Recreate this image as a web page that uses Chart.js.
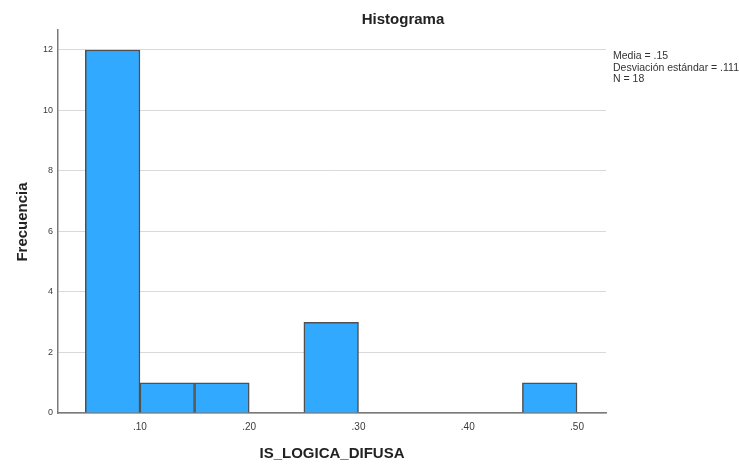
<!DOCTYPE html>
<html>
<head>
<meta charset="utf-8">
<script src="https://cdn.jsdelivr.net/npm/chart.js@4"></script>
<style>
  html, body { margin: 0; padding: 0; background: #fff; }
  #wrap { width: 739px; height: 465px; }
</style>
</head>
<body>
<div id="wrap"><canvas id="histChart" width="739" height="465"></canvas></div>
<script>
// histogram bins (lower / upper edge) and frequencies
const binStarts = [0.05, 0.10, 0.15, 0.25, 0.45];
const binEnds = [0.10, 0.15, 0.20, 0.30, 0.50];
const counts = [12, 1, 1, 3, 1];
const xTicks = [0.10, 0.20, 0.30, 0.40, 0.50];
const yTicks = [0, 2, 4, 6, 8, 10, 12];
const statsLines = ['Media = .15', 'Desviación estándar = .111', 'N = 18'];

const chartTitle = 'Histograma';
const xTitle = 'IS_LOGICA_DIFUSA';
const yTitle = 'Frecuencia';

const points = binStarts.map(function (s, i) {
    return { x: (s + binEnds[i]) / 2, y: counts[i] };
});

// title, axis titles and the stats box are drawn here
const textPlugin = {
    id: 'spssText',
    afterDraw: function (chart) {
        const ctx = chart.ctx;
        const area = chart.chartArea;
        ctx.save();
        ctx.fillStyle = '#222';
        ctx.font = 'bold 15px "Liberation Sans", Arial, sans-serif';
        ctx.textAlign = 'center';
        ctx.textBaseline = 'alphabetic';
        ctx.fillText(chartTitle, 403, 24);
        ctx.fillText(xTitle, (area.left + area.right) / 2, 458);

        ctx.translate(27, 222);
        ctx.rotate(-Math.PI / 2);
        ctx.fillText(yTitle, 0, 0);
        ctx.restore();

        ctx.save();
        ctx.fillStyle = '#333';
        ctx.font = '10.5px "Liberation Sans", Arial, sans-serif';
        ctx.textAlign = 'left';
        ctx.textBaseline = 'alphabetic';
        statsLines.forEach(function (line, i) {
            ctx.fillText(line, 613, 59 + i * 11.5);
        });
        ctx.restore();
    }
};

const ctx = document.getElementById('histChart').getContext('2d');
const histChart = new Chart(ctx, {
    type: 'bar',
    data: {
        datasets: [{
            label: yTitle,
            data: points,
            backgroundColor: '#31a9ff',
            borderColor: '#505050',
            borderWidth: 1.5,
            barPercentage: 1,
            categoryPercentage: 1
        }]
    },
    options: {
        responsive: false,
        animation: false,
        layout: {
            padding: { left: 0, top: 30, right: 133, bottom: 0 }
        },
        plugins: {
            legend: { display: false },
            tooltip: { enabled: false }
        },
        scales: {
            x: {
                type: 'linear',
                offset: false,
                min: 0.025,
                max: 0.5265,
                afterBuildTicks: function (scale) {
                    scale.ticks = xTicks.map(function (v) { return { value: v }; });
                },
                afterFit: function (scale) { scale.height = 52; },
                grid: { display: false, drawTicks: false, offset: false },
                border: { display: true, color: '#7a7a7a', width: 1.5 },
                ticks: {
                    padding: 8,
                    color: '#3a3a3a',
                    font: { size: 10, family: '"Liberation Sans", Arial, sans-serif' },
                    maxRotation: 0,
                    callback: function (v) { return v.toFixed(2).replace(/^0/, ''); }
                }
            },
            y: {
                min: 0,
                max: 12.66,
                afterBuildTicks: function (scale) {
                    scale.ticks = yTicks.map(function (v) { return { value: v }; });
                },
                afterFit: function (scale) { scale.width = 58; },
                grid: { color: '#d9d9d9', lineWidth: 1, drawTicks: false },
                border: { display: true, color: '#7a7a7a', width: 1.5 },
                ticks: {
                    padding: 5,
                    color: '#3a3a3a',
                    font: { size: 9, family: '"Liberation Sans", Arial, sans-serif' }
                }
            }
        }
    },
    plugins: [textPlugin]
});
</script>
</body>
</html>
